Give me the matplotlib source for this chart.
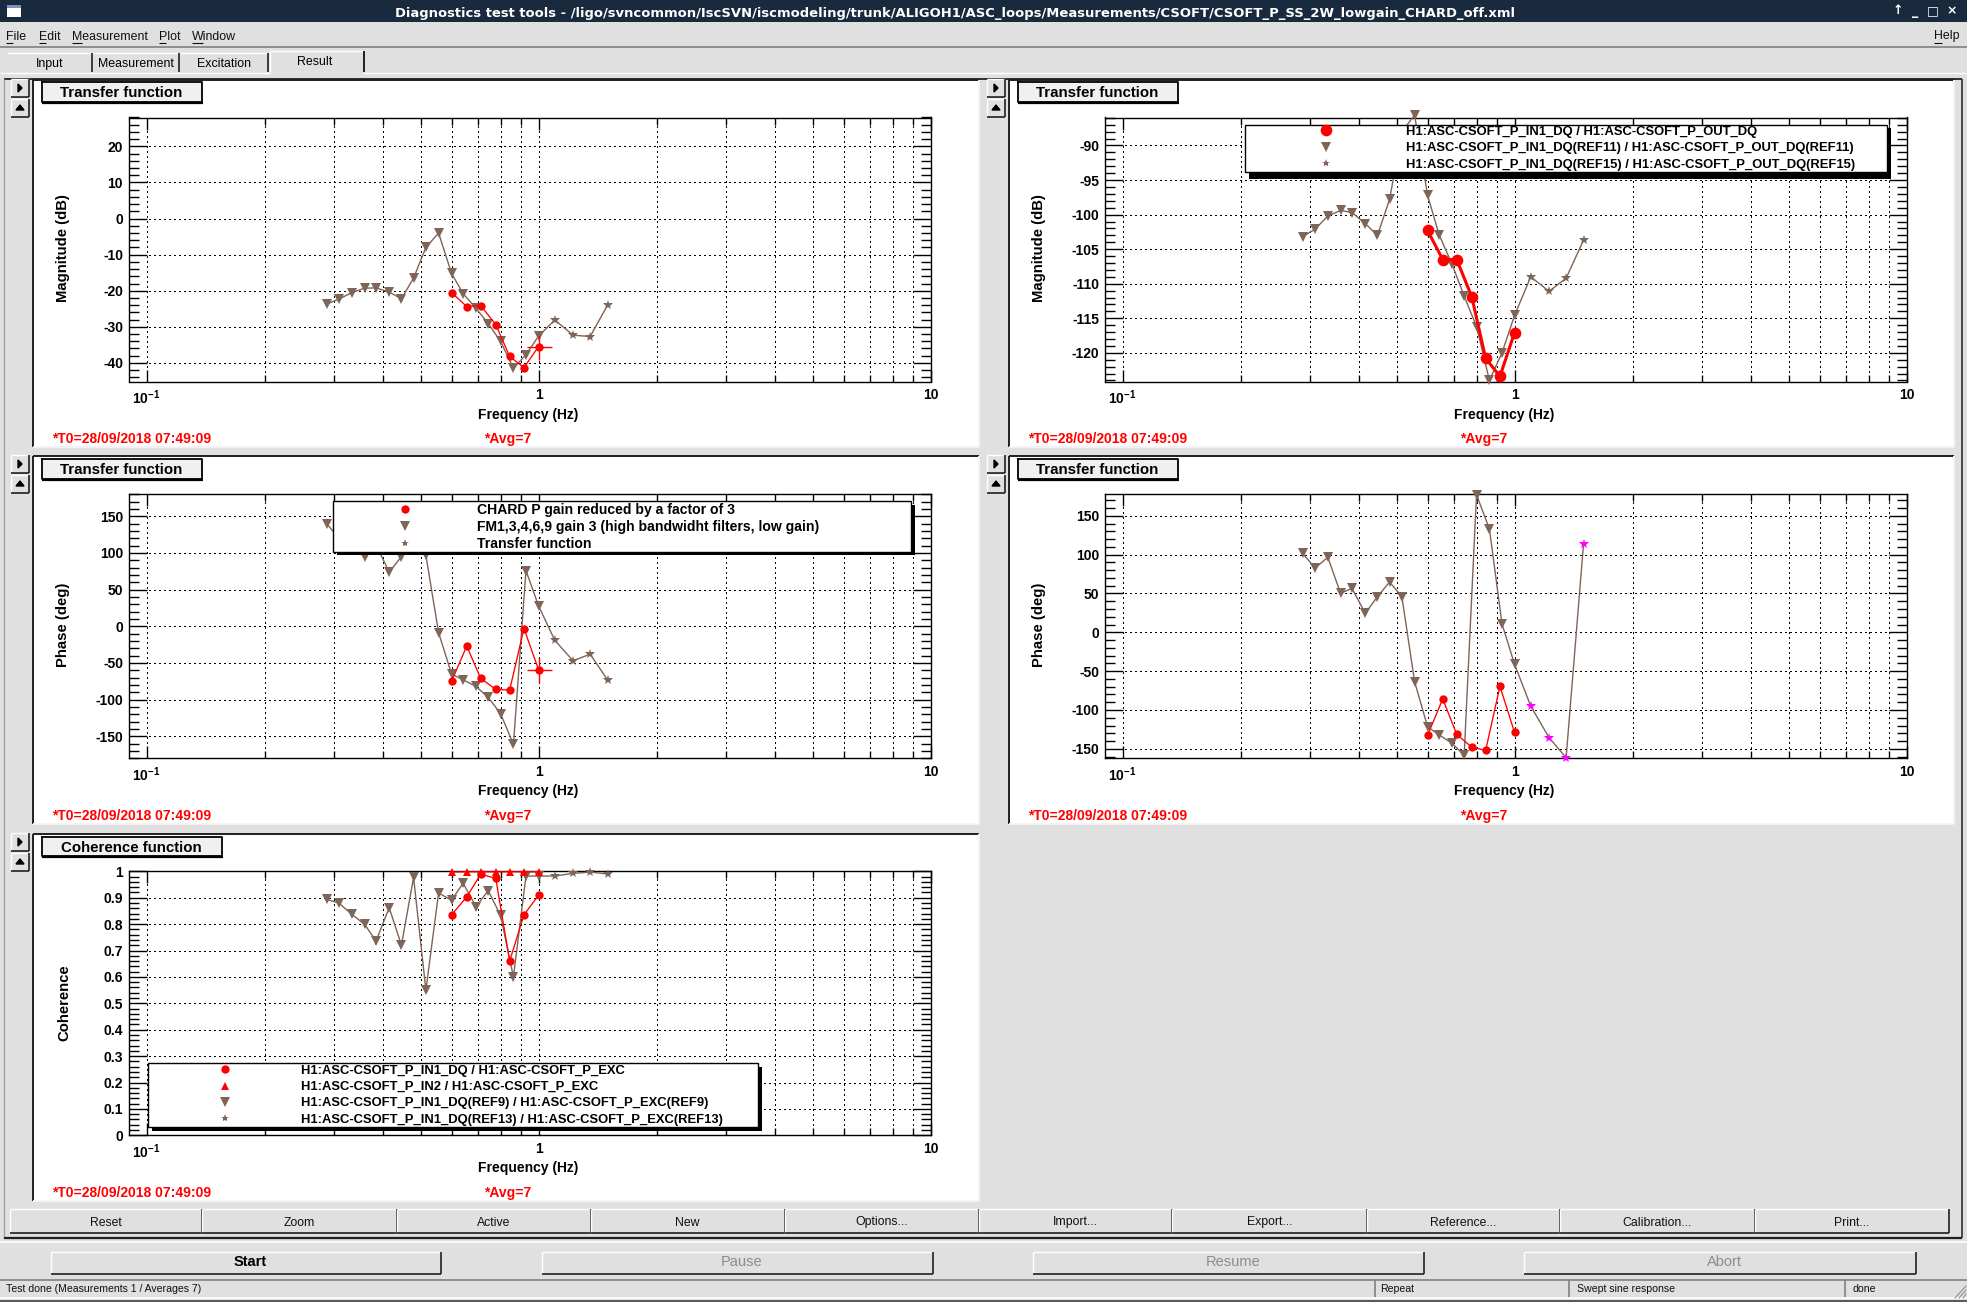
import matplotlib
matplotlib.use('Agg')
import matplotlib.pyplot as plt
from matplotlib.lines import Line2D
from matplotlib.patches import Rectangle, Polygon
from matplotlib.ticker import MultipleLocator, FuncFormatter

W, H = 1967, 1302

# frequency points (Hz)
freq_ref = [0.288, 0.31, 0.334, 0.36, 0.385, 0.416, 0.447, 0.48, 0.516, 0.556, 0.6,
            0.642, 0.693, 0.744, 0.8, 0.863, 0.929, 1.0, 1.1, 1.225, 1.354, 1.5]
freq_new = [0.6, 0.656, 0.712, 0.778, 0.844, 0.918, 1.0]

# panel 1, magnitude (dB)
mag1_ref = [-23.7, -22.3, -20.5, -19.3, -19.2, -20.4, -22.2, -16.5, -8.0, -4.0, -15.2,
            -20.8, -24.9, -29.1, -34.0, -41.5, -37.7, -32.6, -28.1, -32.3, -32.7, -24.0]
mag1_new = [-20.5, -24.4, -24.1, -29.4, -38.2, -41.3, -35.5]

# panel 2, magnitude (dB)
mag2_ref = [-103.2, -102.1, -100.2, -99.4, -99.7, -101.3, -103.0, -97.8, -88.0, -85.6, -97.2,
            -102.9, -107.2, -111.8, -116.2, -124.0, -120.0, -114.6, -109.0, -111.1, -109.2, -103.7]
mag2_new = [-102.3, -106.5, -106.5, -111.9, -120.8, -123.4, -117.1]

# panel 3, phase (deg)
phase3_ref = [140, 120, 108, 95, 111, 74, 95, 118, 97, -8.6, -65,
              -73, -82, -97, -119, -161, 76, 28, -19, -47, -38, -73]
phase3_new = [-75, -27, -71, -86, -87, -3, -59]

# panel 4, phase (deg)
phase4_ref = [101.7, 82.8, 96.6, 50.2, 56.7, 24.5, 45.9, 64.8, 45.9, -63.5, -121.5,
              -132, -143, -158, 177, 133, 11, -41, -95, -135.6, -161.4, 114]
phase4_new = [-132.6, -85.8, -131.3, -148, -152, -69.5, -128.8]

# panel 5, coherence
coh_ref = [0.894, 0.879, 0.837, 0.799, 0.736, 0.862, 0.72, 0.977, 0.55, 0.918, 0.89,
           0.955, 0.866, 0.927, 0.833, 0.6, 0.982, 0.982, 0.982, 0.992, 0.997, 0.99]
coh_new = [0.835, 0.903, 0.989, 0.973, 0.66, 0.835, 0.909]
coh_in2 = [0.997, 0.998, 0.998, 0.998, 0.998, 0.998, 0.998]

legend2 = ['H1:ASC-CSOFT_P_IN1_DQ / H1:ASC-CSOFT_P_OUT_DQ',
           'H1:ASC-CSOFT_P_IN1_DQ(REF11) / H1:ASC-CSOFT_P_OUT_DQ(REF11)',
           'H1:ASC-CSOFT_P_IN1_DQ(REF15) / H1:ASC-CSOFT_P_OUT_DQ(REF15)']
legend3 = ['CHARD P gain reduced by a factor of 3',
           'FM1,3,4,6,9 gain 3 (high bandwidht filters, low gain)',
           'Transfer function']
legend5 = ['H1:ASC-CSOFT_P_IN1_DQ / H1:ASC-CSOFT_P_EXC',
           'H1:ASC-CSOFT_P_IN2 / H1:ASC-CSOFT_P_EXC',
           'H1:ASC-CSOFT_P_IN1_DQ(REF9) / H1:ASC-CSOFT_P_EXC(REF9)',
           'H1:ASC-CSOFT_P_IN1_DQ(REF13) / H1:ASC-CSOFT_P_EXC(REF13)']

title_text = ('Diagnostics test tools - /ligo/svncommon/IscSVN/iscmodeling/trunk/ALIGOH1/'
              'ASC_loops/Measurements/CSOFT/CSOFT_P_SS_2W_lowgain_CHARD_off.xml')
bottom_buttons = ['Reset', 'Zoom', 'Active', 'New', 'Options...', 'Import...', 'Export...',
                  'Reference...', 'Calibration...', 'Print...']

BROWN = '#7f6458'
GRAY = '#e0e0e0'
SANS = 'Liberation Sans'

plt.rcParams['font.family'] = SANS
plt.rcParams['axes.unicode_minus'] = False
plt.rcParams['mathtext.fontset'] = 'custom'
plt.rcParams['mathtext.bf'] = 'Liberation Sans:bold'
plt.rcParams['mathtext.rm'] = 'Liberation Sans:bold'

fig = plt.figure(figsize=(W / 100, H / 100), dpi=100, facecolor=GRAY)

# whole window drawn in pixel coordinates
ui = fig.add_axes([0, 0, 1, 1], zorder=0)
ui.set_xlim(0, W)
ui.set_ylim(H, 0)
ui.axis('off')


def rect(x0, y0, x1, y1, **kw):
    ui.add_patch(Rectangle((x0, y0), x1 - x0, y1 - y0, linewidth=0, **kw))


def hline(x0, x1, y, color='black', lw=1.0):
    ui.plot([x0, x1], [y, y], color=color, lw=lw, solid_capstyle='butt')


def vline(x, y0, y1, color='black', lw=1.0):
    ui.plot([x, x], [y0, y1], color=color, lw=lw, solid_capstyle='butt')


def label(x, y, s, size=9.2, weight='normal', color='black', ha='center', rot=0, **kw):
    ui.text(x, y, s, fontsize=size, fontweight=weight, color=color, ha=ha, va='center',
            rotation=rot, **kw)


def button(x0, y0, x1, y1):
    hline(x0, x1, y0, 'white')
    vline(x0, y0, y1, 'white')
    hline(x0, x1, y1, '#202020', 1.2)
    vline(x1, y0, y1, '#202020', 1.2)


# title bar
rect(0, 0, W, 22, color='#1a2a3e')
rect(7, 5, 21, 17, color='white')
rect(7, 5, 21, 8, color='#8090c0')
label(954.5, 13.5, title_text, size=9.41, weight='bold', color='white', family='DejaVu Sans')
for x, s in zip([1898, 1915, 1933, 1952], ['↑', '_', '□', '×']):
    label(x, 11, s, size=9, weight='bold', color='white', family='DejaVu Sans')

# menu
for x, s, u in [(6, 'File', 7), (39, 'Edit', 7), (72, 'Measurement', 10), (159, 'Plot', 7),
                (192, 'Window', 11), (1934, 'Help', 8)]:
    label(x, 36.5, s, size=8.9, ha='left', color='#101010')
    hline(x, x + u, 43, '#101010', 0.8)
hline(0, W, 47, '#808080', 1.2)

# tabs
for x0, x1, s in [(7, 92, 'Input'), (93, 179, 'Measurement'), (180, 268, 'Excitation')]:
    hline(x0, x1, 53, 'white')
    vline(x1, 53, 72, '#202020', 1.2)
    label((x0 + x1) / 2, 63.7, s, size=8.9)
hline(0, 270, 72.5, 'white')
hline(270, 364, 51, 'white')
vline(270, 51, 72, 'white')
vline(364, 51, 72, '#202020', 1.4)
label(315, 61.7, 'Result', size=8.9)
hline(364, W, 72.5, 'white')

# tab page frame
hline(4, 1962, 79, '#303030', 1.4)
vline(4, 79, 1238, '#a0a0a0', 1.0)
vline(1962, 79, 1238, '#303030', 1.2)
hline(4, 1962, 1238, '#202020', 1.6)
hline(0, W, 1241.5, 'white', 1.2)

# white plot pads
pads = [(33, 80, 979, 447), (1009, 80, 1954, 447), (33, 456, 979, 824),
        (1009, 456, 1954, 824), (33, 834, 979, 1201)]
for x0, y0, x1, y1 in pads:
    rect(x0, y0, x1, y1, color='white')
    hline(x0, x1, y0, '#202020', 1.4)
    vline(x0, y0, y1, '#202020', 1.4)
    hline(x0, x1, y1, '#f4f4f4', 1.4)
    vline(x1, y0, y1, '#f4f4f4', 1.4)
    # little arrow buttons at the side of each pad
    bx0, bx1 = x0 - 22, x0 - 4
    button(bx0, y0 - 1, bx1, y0 + 17)
    button(bx0, y0 + 19, bx1, y0 + 37)
    cx = (bx0 + bx1) / 2
    ui.add_patch(Polygon([(cx - 2, y0 + 4), (cx - 2, y0 + 12), (cx + 2, y0 + 8)], color='black'))
    ui.add_patch(Polygon([(cx - 4, y0 + 30), (cx + 4, y0 + 30), (cx, y0 + 25)], color='black'))

# pad title boxes
for x0, y0, x1, y1, s in [(42, 82, 202, 102, 'Transfer function'),
                          (1018, 82, 1178, 102, 'Transfer function'),
                          (42, 459, 202, 479, 'Transfer function'),
                          (1018, 459, 1178, 479, 'Transfer function'),
                          (42, 837, 222, 856, 'Coherence function')]:
    rect(x0, y0, x1, y1, color='#f0f0f0')
    ui.plot([x0, x1, x1, x0, x0], [y0, y0, y1, y1, y0], color='black', lw=1.3)
    hline(x0, x1 + 1, y1 + 0.5, 'black', 1.6)
    label((x0 + x1) / 2 - 0.5, (y0 + y1) / 2 + 1, s, size=10.8, weight='bold')

# bottom buttons
edges = [9.5, 202, 396.5, 590.5, 784.5, 979, 1172, 1366.5, 1560, 1754.5, 1949]
for i, s in enumerate(bottom_buttons):
    button(edges[i], 1209, edges[i + 1], 1233)
    label((edges[i] + edges[i + 1]) / 2, 1222.5, s, size=8.8, color='#101010')

for x0, x1, s, c in [(51, 441, 'Start', 'black'), (542, 932.5, 'Pause', '#8c8c8c'),
                     (1033, 1423.5, 'Resume', '#8c8c8c'), (1524, 1916, 'Abort', '#8c8c8c')]:
    button(x0, 1252, x1, 1273.5)
    label((x0 + x1) / 2 + 4.5, 1262.5, s, size=10.5, weight='bold' if c == 'black' else 'normal', color=c)

# status bar
hline(0, W, 1280, '#808080', 1.2)
hline(0, W, 1297.5, 'white', 1.2)
hline(0, W, 1301, '#404040', 1.2)
for x in [1375, 1569, 1845]:
    vline(x, 1280, 1297, '#808080', 1.2)
for x, s in [(6, 'Test done (Measurements 1 / Averages 7)'), (1380, 'Repeat'),
             (1577, 'Swept sine response'), (1852, 'done')]:
    label(x, 1289.5, s, size=7.6, ha='left', color='#101010')
for k in [4, 8, 12]:
    ui.plot([W - k, W - 1], [1298, 1298 - k], color='#909090', lw=0.8)


def make_axes(x0, y0, x1, y1, ylim, major, minor, ylabel, ylabel_x=66):
    ax = fig.add_axes([x0 / W, 1 - y1 / H, (x1 - x0) / W, (y1 - y0) / H], zorder=2)
    ax.set_facecolor('white')
    ax.set_xscale('log')
    ax.set_xlim(0.09, 10)
    ax.set_ylim(*ylim)
    ax.set_xticks([0.1, 1, 10])
    ax.set_xticklabels([r'$\mathbf{10^{-1}}$', '1', '10'], fontweight='bold')
    ax.set_xticks([m * d for d in (0.1, 1) for m in range(2, 10)], minor=True)
    ax.set_xticklabels([], minor=True)
    ax.yaxis.set_major_locator(MultipleLocator(major))
    ax.yaxis.set_minor_locator(MultipleLocator(minor))
    ax.yaxis.set_major_formatter(FuncFormatter(lambda v, p: '%g' % round(v, 3)))
    ax.tick_params(axis='x', which='major', direction='in', top=True, length=8.6, width=1,
                   labelsize=10, pad=4.8)
    ax.tick_params(axis='x', which='minor', direction='in', top=True, length=5, width=1)
    ax.tick_params(axis='y', which='major', direction='in', right=True, length=13, width=1,
                   labelsize=10, pad=4)
    ax.tick_params(axis='y', which='minor', direction='in', right=True, length=7, width=1)
    for t in ax.get_yticklabels():
        t.set_fontweight('bold')
    ax.grid(True, axis='x', which='both', color='black', lw=0.75, ls=(0, (1, 3)), antialiased=False)
    ax.grid(True, axis='y', which='major', color='black', lw=0.75, ls=(0, (1, 3)), antialiased=False)
    ax.set_axisbelow(False)
    for s in ax.spines.values():
        s.set_linewidth(1.0)
    xmid = (x0 + x1) / 2
    label(xmid - 1, y1 + 33, 'Frequency (Hz)', size=10, weight='bold')
    label(x0 - ylabel_x, (y0 + y1) / 2 - 1, ylabel, size=10.7, weight='bold', rot=90)
    label(x0 - 76.5, y1 + 57.5, '*T0=28/09/2018 07:49:09', size=10, weight='bold', color='red', ha='left')
    label(x0 + 355, y1 + 57.5, '*Avg=7', size=10, weight='bold', color='red', ha='left')
    return ax


def draw_ref(ax, y, star_color=BROWN):
    # triangles up to 1 Hz, small stars after that, one line through all
    ax.plot(freq_ref, y, color=BROWN, lw=1.0, clip_on=False, zorder=3)
    ax.plot(freq_ref[:18], y[:18], ls='none', marker='v', ms=6.8, color=BROWN, mew=0,
            clip_on=False, zorder=3)
    ax.plot(freq_ref[18:], y[18:], ls='none', marker='*', ms=7, color=star_color, mew=0,
            clip_on=False, zorder=3)


def draw_new(ax, y, ms=6.0, lw=0.95):
    ax.plot(freq_new, y, color='red', lw=lw, marker='o', ms=ms, mew=0, clip_on=False, zorder=4)


def legend_keys(big=6.0, with_up=False):
    keys = [Line2D([], [], ls='none', marker='o', ms=big, mew=0, color='red')]
    if with_up:
        keys.append(Line2D([], [], ls='none', marker='^', ms=6, mew=0, color='red'))
    keys.append(Line2D([], [], ls='none', marker='v', ms=6.8, mew=0, color=BROWN))
    keys.append(Line2D([], [], ls='none', marker='*', ms=6, mew=0, color=BROWN))
    return keys


def draw_legend(ax, x0, y0, x1, y1, keys, texts, text_x, size=9.35, spacing=0.33):
    shadow = Rectangle(((x0 + 4) / W, 1 - (y1 + 3.5) / H), (x1 - x0) / W, (y1 - y0) / H,
                       transform=fig.transFigure, color='black', lw=0, zorder=9, clip_on=False)
    ax.add_patch(shadow)
    fs_px = size * 100 / 72
    leg = ax.legend(keys, texts, loc='upper left',
                    bbox_to_anchor=(x0 / W, 1 - y1 / H, (x1 - x0) / W, (y1 - y0) / H),
                    bbox_transform=fig.transFigure, mode='expand', borderaxespad=0,
                    prop={'family': SANS, 'weight': 'bold', 'size': size}, numpoints=1,
                    handlelength=(text_x - x0) / fs_px - 0.1, handletextpad=0, borderpad=0.1,
                    labelspacing=spacing, fancybox=False, framealpha=1, edgecolor='black',
                    facecolor='white')
    leg.get_frame().set_linewidth(1.0)
    leg.set_zorder(10)


# panel 1
ax1 = make_axes(128.6, 117.5, 930.5, 381.5, (-45.15, 28), 10, 2, 'Magnitude (dB)')
draw_ref(ax1, mag1_ref)
draw_new(ax1, mag1_new)
ax1.plot(freq_new[-1], mag1_new[-1], marker='+', ms=18, mew=1.0, color='red', zorder=4)

# panel 2
ax2 = make_axes(1104.6, 117.5, 1906.5, 381.5, (-124.15, -85.95), 5, 1, 'Magnitude (dB)')
draw_ref(ax2, mag2_ref)
draw_new(ax2, mag2_new, ms=8.4, lw=2.2)
draw_legend(ax2, 1244.5, 124.5, 1887, 175, legend_keys(8.4), legend2, 1405.5)

# panel 3
ax3 = make_axes(128.6, 494.3, 930.5, 758.3, (-180, 180), 50, 10, 'Phase (deg)')
draw_ref(ax3, phase3_ref)
draw_new(ax3, phase3_new)
ax3.plot(freq_new[-1], phase3_new[-1], marker='+', ms=18, mew=1.0, color='red', zorder=4)
draw_legend(ax3, 332.5, 501.3, 911, 551, legend_keys(), legend3, 477, size=10.1, spacing=0.22)

# panel 4
ax4 = make_axes(1104.6, 494.3, 1906.5, 758.3, (-162.2, 177.7), 50, 10, 'Phase (deg)')
draw_ref(ax4, phase4_ref, star_color='#ff00ff')
draw_new(ax4, phase4_new)

# panel 5
ax5 = make_axes(128.6, 871.3, 930.5, 1135.3, (0, 1), 0.1, 0.02, 'Coherence', ylabel_x=64.6)
draw_ref(ax5, coh_ref)
ax5.plot(freq_new, coh_in2, color='red', lw=0.95, marker='^', ms=6, mew=0, clip_on=False, zorder=4)
draw_new(ax5, coh_new)
draw_legend(ax5, 147.5, 1063.3, 758, 1127.3, legend_keys(with_up=True), legend5, 300.6)

fig.savefig('out.png', dpi=100, facecolor=GRAY)
